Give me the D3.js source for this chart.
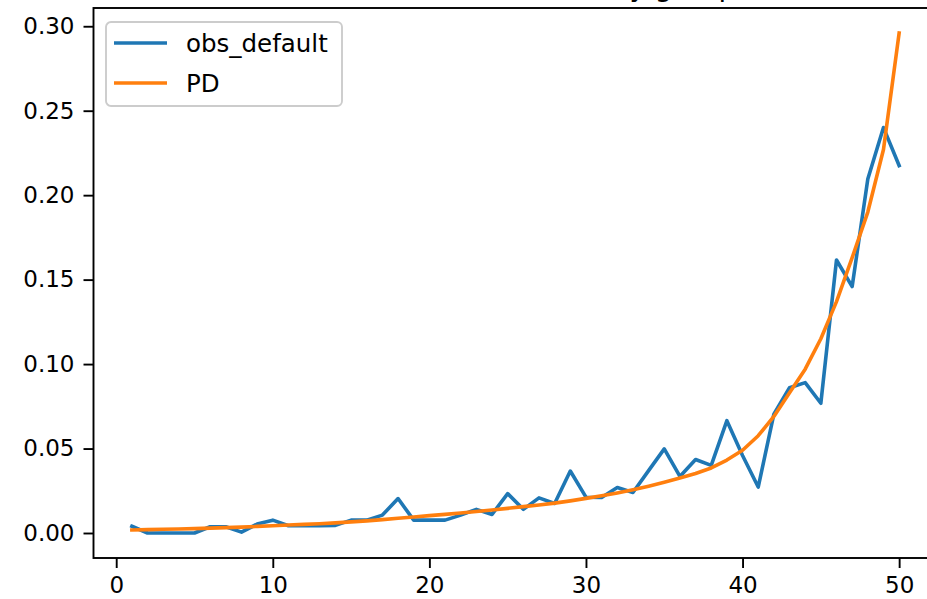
<!DOCTYPE html>
<html>
<head>
<meta charset="utf-8">
<script src="https://cdn.jsdelivr.net/npm/d3@7"></script>
<style>
    html, body { margin: 0; padding: 0; background: #fff; }
    svg { display: block; font-family: "DejaVu Sans", sans-serif; }
</style>
</head>
<body>
<div class="d3-canvas"></div>
<script>
const WIDTH = 927;
const HEIGHT = 599;

// Data.
const groups = d3.range(1, 51);
const obsDefault = [
    0.004, 0.000, 0.000, 0.000, 0.000, 0.0037, 0.0037, 0.0005, 0.0053, 0.0076,
    0.0043, 0.0043, 0.0043, 0.0045, 0.0076, 0.0076, 0.0106, 0.0204, 0.0076, 0.0076,
    0.0076, 0.0106, 0.014, 0.011, 0.0233, 0.014, 0.0208, 0.0175, 0.0367, 0.0212,
    0.021, 0.0269, 0.024, 0.0369, 0.0498, 0.0335, 0.0435, 0.040, 0.0665, 0.0459,
    0.0272, 0.0704, 0.086, 0.089, 0.0768, 0.1616, 0.1459, 0.2096, 0.240, 0.2175
];
const pd = [
    0.0018, 0.0020, 0.0022, 0.0024, 0.0026, 0.0029, 0.0032, 0.0035, 0.0039, 0.0043,
    0.0047, 0.0051, 0.0055, 0.0060, 0.0066, 0.0072, 0.0079, 0.0087, 0.0095, 0.0103,
    0.0110, 0.0118, 0.0127, 0.0136, 0.0146, 0.0156, 0.0166, 0.0177, 0.0190, 0.0205,
    0.0220, 0.0237, 0.0256, 0.0277, 0.0300, 0.0325, 0.0352, 0.0385, 0.0432, 0.0490,
    0.0576, 0.0690, 0.0830, 0.0970, 0.1150, 0.1370, 0.1630, 0.1900, 0.2270, 0.2960
];
const seriesNames = ['obs_default', 'PD'];
const seriesColors = ['#1f77b4', '#ff7f0e'];
const xTicks = [0, 10, 20, 30, 40, 50];
const yTicks = [0, 0.05, 0.10, 0.15, 0.20, 0.25, 0.30];
const titleText = 'Observed default rate by group';

const FONT = 23;
const LEGEND_FONT = 24.5;
const TICK_LEN = 10;
const TICK_PAD = 9;

// Axes box (right edge falls outside the picture, like the reference).
const box = {left: 93.5, right: 937.5, top: 8, bottom: 558};

const svg = d3.select('.d3-canvas')
    .append('svg')
        .attr('width', WIDTH)
        .attr('height', HEIGHT);

// Matplotlib-like 5% margins around the data.
const xPad = (d3.max(groups) - d3.min(groups)) * 0.05;
const allValues = obsDefault.concat(pd);
const yMin = d3.min(allValues);
const yMax = d3.max(allValues);
const yPad = (yMax - yMin) * 0.05;

const x = d3.scaleLinear()
    .domain([d3.min(groups) - xPad, d3.max(groups) + xPad])
    .range([box.left, box.right]);
const y = d3.scaleLinear()
    .domain([yMin - yPad, yMax + yPad])
    .range([box.bottom, box.top]);

// Title, mostly cut off above the picture.
svg.append('text')
    .attr('x', (box.left + box.right) / 2)
    .attr('y', -4)
    .attr('text-anchor', 'middle')
    .attr('font-size', 28)
    .attr('fill', '#000')
    .text(titleText);

// Lines.
const line = values => d3.line()
    .x((d, i) => x(groups[i]))
    .y(d => y(d))(values);

[obsDefault, pd].forEach((values, i) => {
    svg.append('path')
        .attr('d', line(values))
        .attr('fill', 'none')
        .attr('stroke', seriesColors[i])
        .attr('stroke-width', 3.6)
        .attr('stroke-linejoin', 'round')
        .attr('stroke-linecap', 'square');
});

// Axes.
const xAxis = d3.axisBottom(x)
    .tickValues(xTicks)
    .tickFormat(d3.format('d'))
    .tickSize(TICK_LEN)
    .tickPadding(TICK_PAD)
    .tickSizeOuter(0);
const yAxis = d3.axisLeft(y)
    .tickValues(yTicks)
    .tickFormat(d3.format('.2f'))
    .tickSize(TICK_LEN)
    .tickPadding(TICK_PAD)
    .tickSizeOuter(0);

const xAxisGroup = svg.append('g')
    .attr('transform', `translate(0, ${box.bottom})`)
    .call(xAxis);
const yAxisGroup = svg.append('g')
    .attr('transform', `translate(${box.left}, 0)`)
    .call(yAxis);

[xAxisGroup, yAxisGroup].forEach(g => {
    g.select('.domain').remove();
    g.selectAll('.tick line').attr('stroke', '#000').attr('stroke-width', 1.9);
    g.selectAll('.tick text')
        .attr('font-size', FONT)
        .attr('font-family', '"DejaVu Sans", sans-serif')
        .attr('fill', '#000');
});

// Spines.
svg.append('rect')
    .attr('x', box.left)
    .attr('y', box.top)
    .attr('width', box.right - box.left)
    .attr('height', box.bottom - box.top)
    .attr('fill', 'none')
    .attr('stroke', '#000')
    .attr('stroke-width', 1.9);

// Legend.
const legend = svg.append('g')
    .attr('transform', 'translate(106, 22)');
legend.append('rect')
    .attr('width', 236)
    .attr('height', 84)
    .attr('rx', 5)
    .attr('fill', 'rgba(255,255,255,0.8)')
    .attr('stroke', '#cccccc')
    .attr('stroke-width', 1.9);

seriesNames.forEach((name, i) => {
    const row = legend.append('g')
        .attr('transform', `translate(0, ${21 + i * 40})`);
    row.append('line')
        .attr('x1', 8)
        .attr('x2', 61)
        .attr('stroke', seriesColors[i])
        .attr('stroke-width', 3.6);
    row.append('text')
        .attr('x', 80)
        .attr('dy', '0.35em')
        .attr('font-size', LEGEND_FONT)
        .attr('fill', '#000')
        .text(name);
});
</script>
</body>
</html>
